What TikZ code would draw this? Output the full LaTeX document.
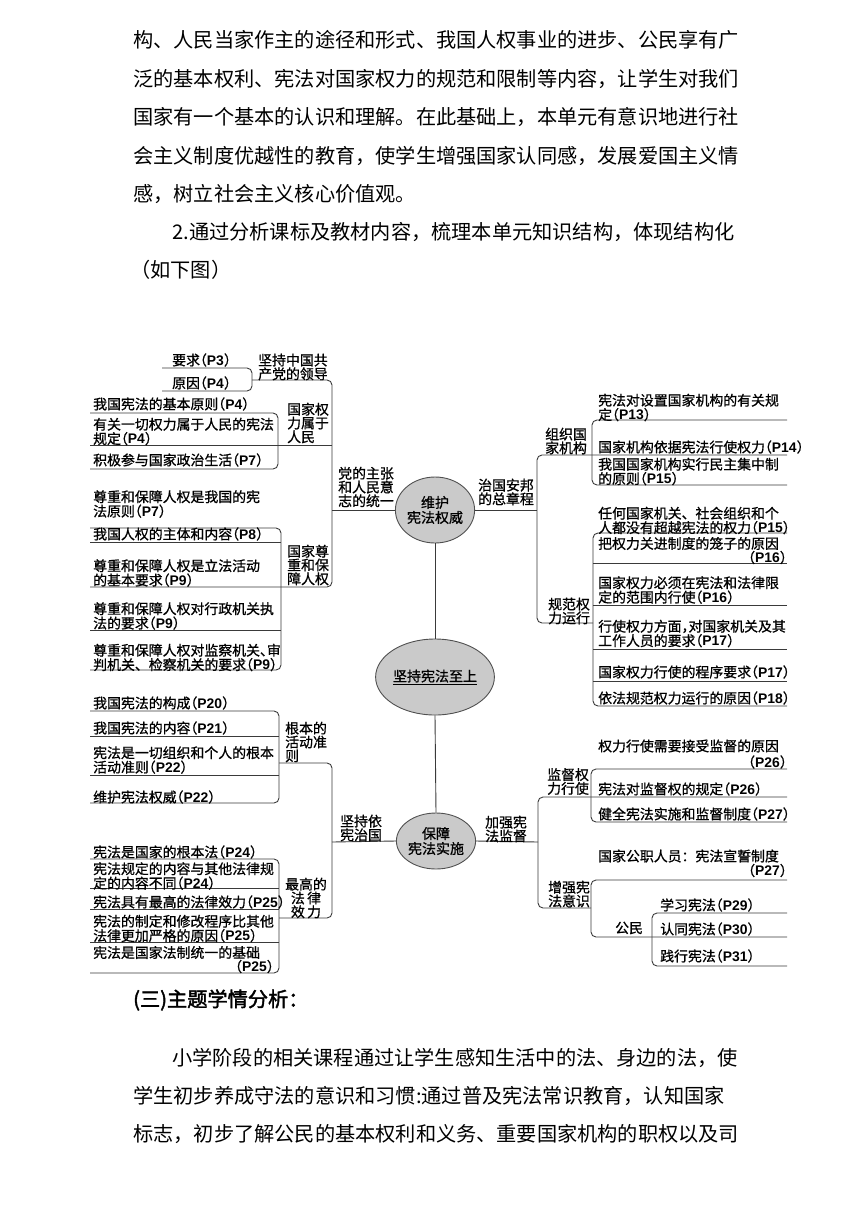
\documentclass[tikz,border=0pt]{standalone}
\usepackage{fontspec}
\setmainfont{Noto Sans CJK SC}[AutoFakeBold=2]
\newfontfamily\dfont{Noto Sans CJK SC}[FakeBold=0.9]
\newfontfamily\haltf{Noto Sans CJK SC}[RawFeature=+halt, FakeBold=0.9]
\newfontfamily\pfont{Liberation Sans}
\usetikzlibrary{shapes.geometric}
\XeTeXlinebreaklocale "zh"
\XeTeXlinebreakskip=0pt plus 3pt
\newcommand\pgn[1]{{\haltf （}{\pfont\bfseries #1}{\haltf ）}}
\definecolor{lc}{HTML}{3A3A3A}
\definecolor{ef}{HTML}{CACACA}
\definecolor{ed}{HTML}{505050}
\tikzset{
  ln/.style={draw=lc, line width=0.9pt, rounded corners=5pt},
  it/.style={anchor=west, inner sep=0pt, align=left, font=\dfont\fontsize{13.9}{14.4}\selectfont, text=black},
  itr/.style={anchor=east, inner sep=0pt, font=\dfont\fontsize{13.9}{14.4}\selectfont, text=black},
  lb/.style={anchor=west, inner sep=0pt, align=left, font=\dfont\fontsize{13.9}{13.8}\selectfont, text=black},
  el/.style={ellipse, draw=ed, fill=ef, line width=0.9pt, inner sep=0pt, align=center, font=\dfont\fontsize{14}{15}\selectfont},
  para/.style={anchor=west, inner sep=0pt, font=\fontsize{20.2}{22}\selectfont, text=black}
}
\begin{document}
\begin{tikzpicture}[x=1pt,y=-1pt]
\useasboundingbox (0,0) rectangle (860,1216);
% ---------- top paragraph ----------
\node[para] (t1) at (133,40) {\makebox[607pt][s]{构、人民当家作主的途径和形式、我国人权事业的进步、公民享有广}};
\node[para] (t2) at (133,79) {\makebox[607pt][s]{泛的基本权利、宪法对国家权力的规范和限制等内容，让学生对我们}};
\node[para] (t3) at (133,117) {\makebox[607pt][s]{国家有一个基本的认识和理解。在此基础上，本单元有意识地进行社}};
\node[para] (t4) at (133,156) {\makebox[607pt][s]{会主义制度优越性的教育，使学生增强国家认同感，发展爱国主义情}};
\node[para] (t5) at (133,194) {感，树立社会主义核心价值观。};
\node[para] (t6) at (172,232) {\makebox[568pt][s]{2.通过分析课标及教材内容，梳理本单元知识结构，体现结构化}};
\node[para] (t7) at (130,270) {（如下图）};
% ---------- ellipses ----------
\node[el, minimum width=76pt, minimum height=66pt] (e1) at (435,510) {维护\\宪法权威};
\node[el, minimum width=92pt, minimum height=76pt] (e2) at (435,677) {\underline{坚持宪法至上}};
\node[el, minimum width=70pt, minimum height=56pt] (e3) at (436,841) {保障\\宪法实施};
\draw[ln] (e1.south) -- (e2.north);
\draw[ln] (e2.south) -- (e3.north);
% ---------- upper left ----------
\coordinate (vL1) at (332,510);
\draw[ln] (e1.west) -- (vL1);
\draw[ln] (252,380) -- (332,380) -- (332,587) -- (90,587);
\draw[ln] (90,445) -- (332,445);
\draw[ln] (162,368) -- (252,368) -- (252,391) -- (162,391);
\draw[ln] (90,413) -- (278,413) -- (278,469) -- (90,469);
\draw[ln] (90,528) -- (281,528) -- (281,670) -- (90,670);
\draw[ln] (90,542) -- (281,542);
\draw[ln] (90,630) -- (281,630);
\node[it] (a1) at (172,360) {要求\pgn{P3}};
\node[it] (a2) at (172,383) {原因\pgn{P4}};
\node[lb] (l1) at (258,367) {坚持中国共\\产党的领导};
\node[it] (b1) at (93,404) {我国宪法的基本原则\pgn{P4}};
\node[it] (b2) at (93,431.5) {有关一切权力属于人民的宪法\\规定\pgn{P4}};
\node[it] (b3) at (93,460) {积极参与国家政治生活\pgn{P7}};
\node[lb] (l2) at (287,423) {国家权\\力属于\\人民};
\node[it] (c1) at (93,504) {尊重和保障人权是我国的宪\\法原则\pgn{P7}};
\node[it] (c2) at (93,534) {我国人权的主体和内容\pgn{P8}};
\node[it] (c3) at (93,573) {尊重和保障人权是立法活动\\的基本要求\pgn{P9}};
\node[it] (c4) at (93,616) {尊重和保障人权对行政机关执\\法的要求\pgn{P9}};
\node[it] (c5) at (93,657.5) {尊重和保障人权对监察机关{\haltf 、}审\\判机关、检察机关的要求\pgn{P9}};
\node[lb] (l3) at (287,565) {国家尊\\重和保\\障人权};
\node[lb] (l4) at (338,487) {党的主张\\和人民意\\志的统一};
% ---------- upper right ----------
\coordinate (vR1) at (537,510);
\draw[ln] (e1.east) -- (vR1);
\draw[ln] (787,455) -- (537,455) -- (537,623) -- (593,623);
\draw[ln] (787,420) -- (592,420) -- (592,485) -- (787,485);
\draw[ln] (787,533) -- (593,533) -- (593,706) -- (787,706);
\draw[ln] (593,563) -- (787,563);
\draw[ln] (593,605) -- (787,605);
\draw[ln] (593,649) -- (787,649);
\draw[ln] (593,681) -- (787,681);
\node[lb] (l5) at (478,492) {治国安邦\\的总章程};
\node[lb] (l6) at (545,441) {组织国\\家机构};
\node[it] (d1) at (598,407.5) {宪法对设置国家机构的有关规\\定\pgn{P13}};
\node[it] (d2) at (598,447) {国家机构依据宪法行使权力\pgn{P14}};
\node[it] (d3) at (598,471.5) {我国国家机构实行民主集中制\\的原则\pgn{P15}};
\node[lb] (l7) at (548,611) {规范权\\力运行};
\node[it] (f1) at (598,520.5) {任何国家机关、社会组织和个\\人都没有超越宪法的权力\pgn{P15}};
\node[it] (f2) at (598,543.5) {把权力关进制度的笼子的原因};
\node[itr] (f2b) at (787,557.5) {\pgn{P16}};
\node[it] (f3) at (598,590) {国家权力必须在宪法和法律限\\定的范围内行使\pgn{P16}};
\node[it] (f4) at (598,633.5) {行使权力方面{\haltf ，}对国家机关及其\\工作人员的要求\pgn{P17}};
\node[it] (f5) at (598,672) {国家权力行使的程序要求\pgn{P17}};
\node[it] (f6) at (598,698) {依法规范权力运行的原因\pgn{P18}};
% ---------- lower left ----------
\coordinate (vL2) at (332,842);
\draw[ln] (e3.west) -- (vL2);
\draw[ln] (279,763) -- (332,763) -- (332,918) -- (279,918);
\draw[ln] (90,711) -- (279,711) -- (279,803) -- (90,803);
\draw[ln] (90,736) -- (279,736);
\draw[ln] (90,775) -- (279,775);
\draw[ln] (90,859) -- (279,859) -- (279,973) -- (90,973);
\draw[ln] (90,888) -- (279,888);
\draw[ln] (90,909) -- (279,909);
\draw[ln] (90,942) -- (279,942);
\node[it] (g1) at (93,703) {我国宪法的构成\pgn{P20}};
\node[it] (g2) at (93,728) {我国宪法的内容\pgn{P21}};
\node[it] (g3) at (93,760) {宪法是一切组织和个人的根本\\活动准则\pgn{P22}};
\node[it] (g4) at (93,797) {维护宪法权威\pgn{P22}};
\node[lb] (l8) at (285,742) {根本的\\活动准\\则};
\node[lb] (l9) at (340,828) {坚持依\\宪治国};
\node[it] (h1) at (93,852) {宪法是国家的根本法\pgn{P24}};
\node[it] (h2) at (93,876) {宪法规定的内容与其他法律规\\定的内容不同\pgn{P24}};
\node[it] (h3) at (93,902) {宪法具有最高的法律效力\pgn{P25}};
\node[it] (h4) at (93,928.5) {宪法的制定和修改程序比其他\\法律更加严格的原因\pgn{P25}};
\node[it] (h5) at (93,952.5) {宪法是国家法制统一的基础};
\node[itr] (h5b) at (274,966.5) {\pgn{P25}};
\node[lb, align=center, anchor=center] (l10) at (306,898) {最高的\\法\,律\\效\,力};
% ---------- lower right ----------
\coordinate (vR2) at (538,842);
\draw[ln] (e3.east) -- (vR2);
\draw[ln] (787,797) -- (538,797) -- (538,908) -- (591,908);
\draw[ln] (787,769) -- (591,769) -- (591,822) -- (787,822);
\draw[ln] (787,880) -- (591,880) -- (591,937) -- (787,937);
\draw[ln] (787,913) -- (652,913) -- (652,966) -- (787,966);
\node[lb] (l11) at (485,829) {加强宪\\法监督};
\node[lb] (l12) at (547,781.5) {监督权\\力行使};
\node[it] (i1) at (598,746) {权力行使需要接受监督的原因};
\node[itr] (i1b) at (787,762) {\pgn{P26}};
\node[it] (i2) at (598,789) {宪法对监督权的规定\pgn{P26}};
\node[it] (i3) at (598,814) {健全宪法实施和监督制度\pgn{P27}};
\node[lb] (l13) at (548,894) {增强宪\\法意识};
\node[it] (j1) at (598,856) {国家公职人员：宪法宣誓制度};
\node[itr] (j1b) at (787,870.5) {\pgn{P27}};
\node[lb] (l14) at (615,928) {公民};
\node[it] (k1) at (660,905) {学习宪法\pgn{P29}};
\node[it] (k2) at (660,929) {认同宪法\pgn{P30}};
\node[it] (k3) at (660,956) {践行宪法\pgn{P31}};
% ---------- bottom paragraph ----------
\node[para, font=\fontsize{20.2}{22}\selectfont\bfseries] (s0) at (133,1000) {(三)主题学情分析：};
\node[para] (s1) at (172,1058) {\makebox[568pt][s]{小学阶段的相关课程通过让学生感知生活中的法、身边的法，使}};
\node[para] (s2) at (133,1096) {\makebox[607pt][s]{学生初步养成守法的意识和习惯:通过普及宪法常识教育，认知国家}};
\node[para] (s3) at (133,1134) {\makebox[607pt][s]{标志，初步了解公民的基本权利和义务、重要国家机构的职权以及司}};
\end{tikzpicture}
\end{document}
